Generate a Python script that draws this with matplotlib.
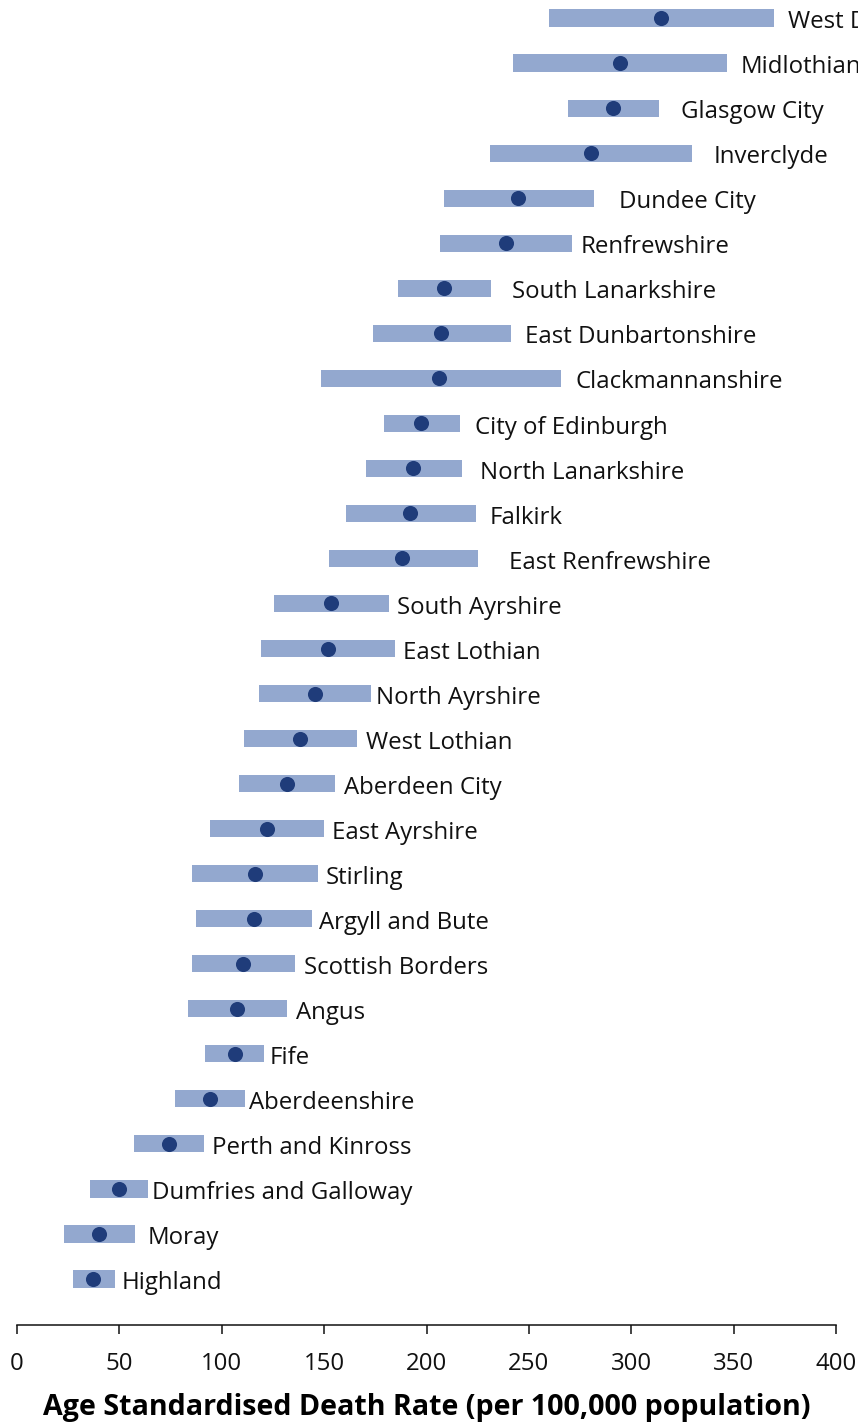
import matplotlib
matplotlib.use("Agg")
import matplotlib.pyplot as plt

# Council areas, listed from highest to lowest rate
councils = [
    "West Dunbartonshire", "Midlothian", "Glasgow City", "Inverclyde",
    "Dundee City", "Renfrewshire", "South Lanarkshire", "East Dunbartonshire",
    "Clackmannanshire", "City of Edinburgh", "North Lanarkshire", "Falkirk",
    "East Renfrewshire", "South Ayrshire", "East Lothian", "North Ayrshire",
    "West Lothian", "Aberdeen City", "East Ayrshire", "Stirling",
    "Argyll and Bute", "Scottish Borders", "Angus", "Fife", "Aberdeenshire",
    "Perth and Kinross", "Dumfries and Galloway", "Moray", "Highland",
]

# Age standardised death rate (per 100,000) with confidence interval
rate = [314.5, 294.5, 291.1, 280.3, 244.7, 238.8, 208.5, 207.1, 206.1,
        197.3, 193.4, 191.9, 188.0, 153.4, 151.9, 145.5, 138.2, 131.9,
        122.1, 116.2, 115.8, 110.4, 107.4, 106.5, 94.3, 74.2, 49.8, 40.0, 37.1]
ci_low = [259.8, 242.2, 269.1, 231.0, 208.5, 206.6, 186.1, 173.9, 148.5,
          179.2, 170.5, 160.7, 152.4, 125.5, 119.2, 118.2, 110.9, 108.4,
          94.3, 85.5, 87.4, 85.5, 83.5, 91.8, 77.2, 57.1, 35.7, 23.0, 27.4]
ci_high = [369.7, 346.8, 313.6, 329.7, 281.8, 271.1, 231.5, 241.3, 265.7,
           216.4, 217.3, 224.2, 225.2, 181.7, 184.6, 172.9, 166.1, 155.3,
           149.9, 147.0, 144.1, 135.8, 131.9, 120.6, 111.4, 91.3, 64.0, 57.6, 47.9]

x_ticks = [0, 50, 100, 150, 200, 250, 300, 350, 400]
x_label = "Age Standardised Death Rate (per 100,000 population)"

# Gap between the end of each interval bar and its name (pixels)
label_gap_px = [14, 14, 22, 22, 25, 9, 21, 14, 14, 15, 18, 14, 31, 8, 8, 5,
                9, 9, 8, 8, 7, 9, 9, 6, 4, 8, 4, 13, 7]

BAR_COLOR = "#93a8cf"
DOT_COLOR = "#1f3c7a"
FONT = ["Open Sans", "DejaVu Sans"]

plt.rcParams["font.family"] = FONT

fig = plt.figure(figsize=(8.58, 14.25), dpi=100)
ax = fig.add_axes([17 / 858, 1 - 1325 / 1425, (836 - 17) / 858, 1325 / 1425])

n = len(councils)
ypos = [n - 1 - i for i in range(n)]
widths = [h - l for l, h in zip(ci_low, ci_high)]

ax.barh(ypos, widths, left=ci_low, height=0.38, color=BAR_COLOR, zorder=2)
ax.scatter(rate, ypos, s=118, color=DOT_COLOR, zorder=3, linewidths=0)

for name, y, hi, gap in zip(councils, ypos, ci_high, label_gap_px):
    ax.annotate(name, xy=(hi, y), xytext=(gap * 0.72, -3.0),
                textcoords="offset points", ha="left", va="center",
                fontsize=17.3, color="#111111", annotation_clip=False)

ax.set_xlim(0, 400)
ax.set_ylim(-1.021, 28.40)
ax.set_xticks(x_ticks)
ax.set_xticklabels([str(t) for t in x_ticks], fontsize=17.3, color="#111111")
ax.tick_params(axis="x", direction="out", length=6.5, width=1.1,
               pad=13, colors="#111111")
ax.set_yticks([])
for side in ("left", "right", "top"):
    ax.spines[side].set_visible(False)
ax.spines["bottom"].set_linewidth(1.1)
ax.spines["bottom"].set_color("#111111")

ax.set_xlabel(x_label, fontsize=20.6, fontweight="bold", labelpad=12,
              color="#000000")

fig.savefig("out.png", dpi=100)
